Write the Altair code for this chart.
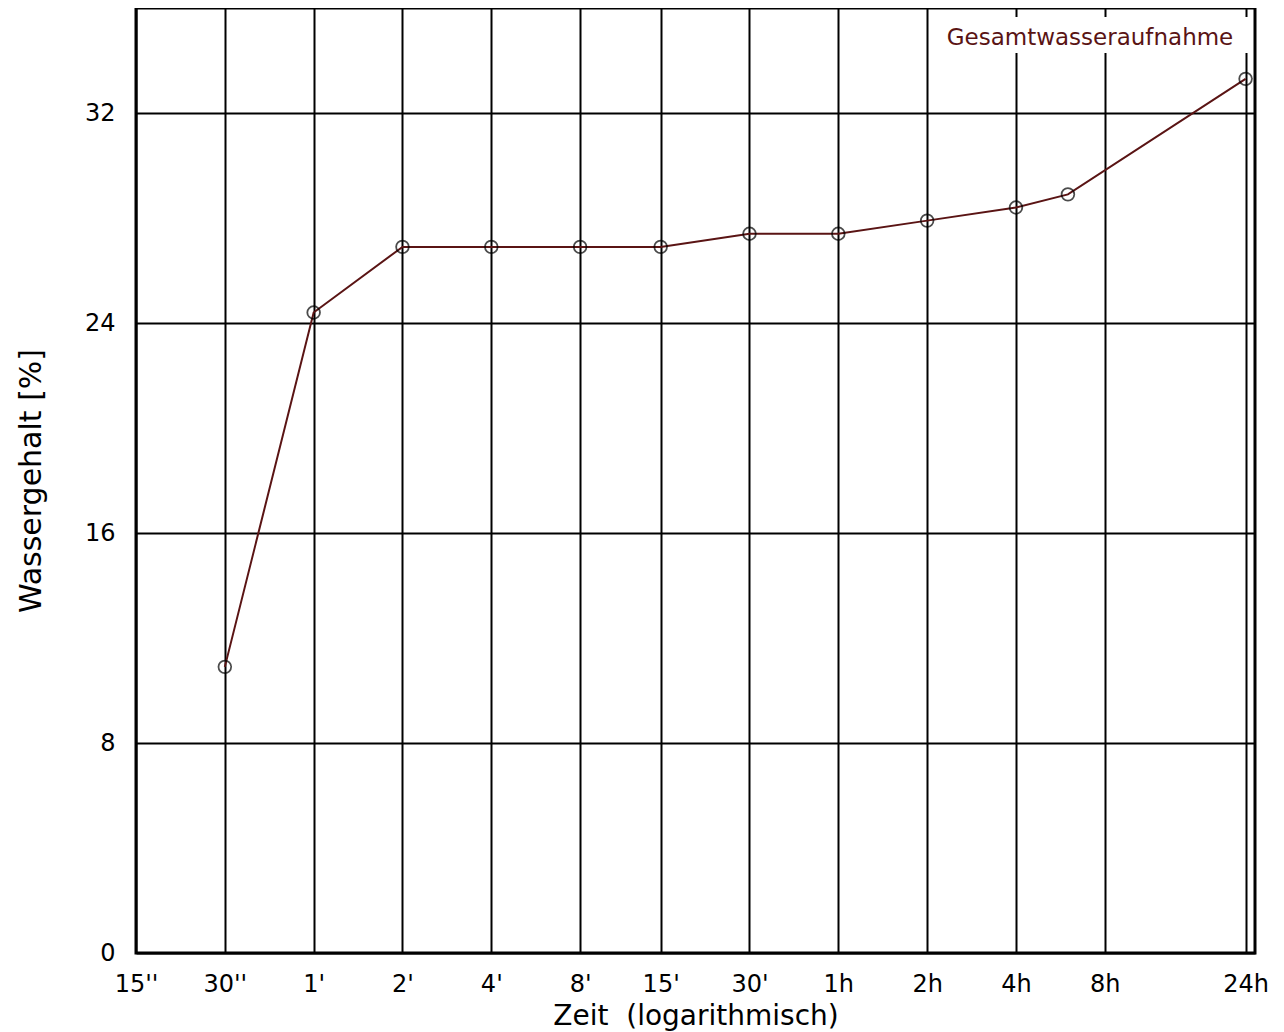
import altair as alt
import pandas as pd

# data (time in seconds, water content in %)
zeit_s = [30, 60, 120, 240, 480, 900, 1800, 3600, 7200, 14400, 21600, 86400]
wassergehalt = [10.9, 24.4, 26.9, 26.9, 26.9, 26.9, 27.4, 27.4, 27.9, 28.4, 28.9, 33.3]

tick_values = [15, 30, 60, 120, 240, 480, 900, 1800, 3600, 7200, 14400, 28800, 86400]
tick_labels = ["15''", "30''", "1'", "2'", "4'", "8'", "15'", "30'", "1h", "2h", "4h", "8h", "24h"]
y_ticks = [0, 8, 16, 24, 32]
series_name = "Gesamtwasseraufnahme"

df = pd.DataFrame({"t": zeit_s, "w": wassergehalt})

expr = '""'
for v, lab in reversed(list(zip(tick_values, tick_labels))):
    expr = f'datum.value == {v} ? "{lab}" : ({expr})'

FONT = "DejaVu Sans"
LINE_COLOR = "#5a1414"

x = alt.X(
    "t:Q",
    scale=alt.Scale(type="log", domain=[15, 93000], nice=False),
    axis=alt.Axis(
        values=tick_values,
        labelExpr=expr,
        title="Zeit\u00a0 (logarithmisch)",
        grid=True,
        gridColor="black",
        gridWidth=2,
        gridOpacity=1,
        ticks=False,
        domain=False,
        labelPadding=19,
        labelFontSize=24,
        labelFont=FONT,
        labelColor="black",
        titleFont=FONT,
        titleFontSize=28,
        titleFontWeight="normal",
        titleColor="black",
        titlePadding=6,
        labelFlush=False,
        labelOverlap=False,
    ),
)
y = alt.Y(
    "w:Q",
    scale=alt.Scale(domain=[0, 36], nice=False),
    axis=alt.Axis(
        values=y_ticks,
        title="Wassergehalt [%]",
        grid=True,
        gridColor="black",
        gridWidth=2,
        gridOpacity=1,
        ticks=False,
        domain=False,
        labelPadding=21,
        labelFontSize=24,
        labelFont=FONT,
        labelColor="black",
        titleFont=FONT,
        titleFontSize=30,
        titleFontWeight="normal",
        titleColor="black",
        titlePadding=38,
        labelFlush=False,
    ),
)

line = alt.Chart(df).mark_line(color=LINE_COLOR, strokeWidth=2).encode(x=x, y=y)
pts = alt.Chart(df).mark_point(shape="circle", filled=False, color="black", size=160, strokeWidth=1.8).encode(x=x, y=y)

legend_df = pd.DataFrame({"label": [series_name]})
box = alt.Chart(legend_df).mark_rect(color="white").encode(
    x=alt.value(796), x2=alt.value(1112), y=alt.value(9), y2=alt.value(45)
)
label = alt.Chart(legend_df).mark_text(
    font=FONT, fontSize=23, color=LINE_COLOR, align="center", baseline="middle"
).encode(x=alt.value(954), y=alt.value(30), text="label:N")

chart = alt.layer(line, pts, box, label).properties(
    width=1119,
    height=945,
    background="white",
    autosize=alt.AutoSizeParams(type="none"),
    padding={"left": 128, "top": 0, "right": 14, "bottom": 78},
).configure_view(stroke="black", strokeWidth=3)

chart.save("out.html", embed_options={"renderer": "svg", "actions": False})
